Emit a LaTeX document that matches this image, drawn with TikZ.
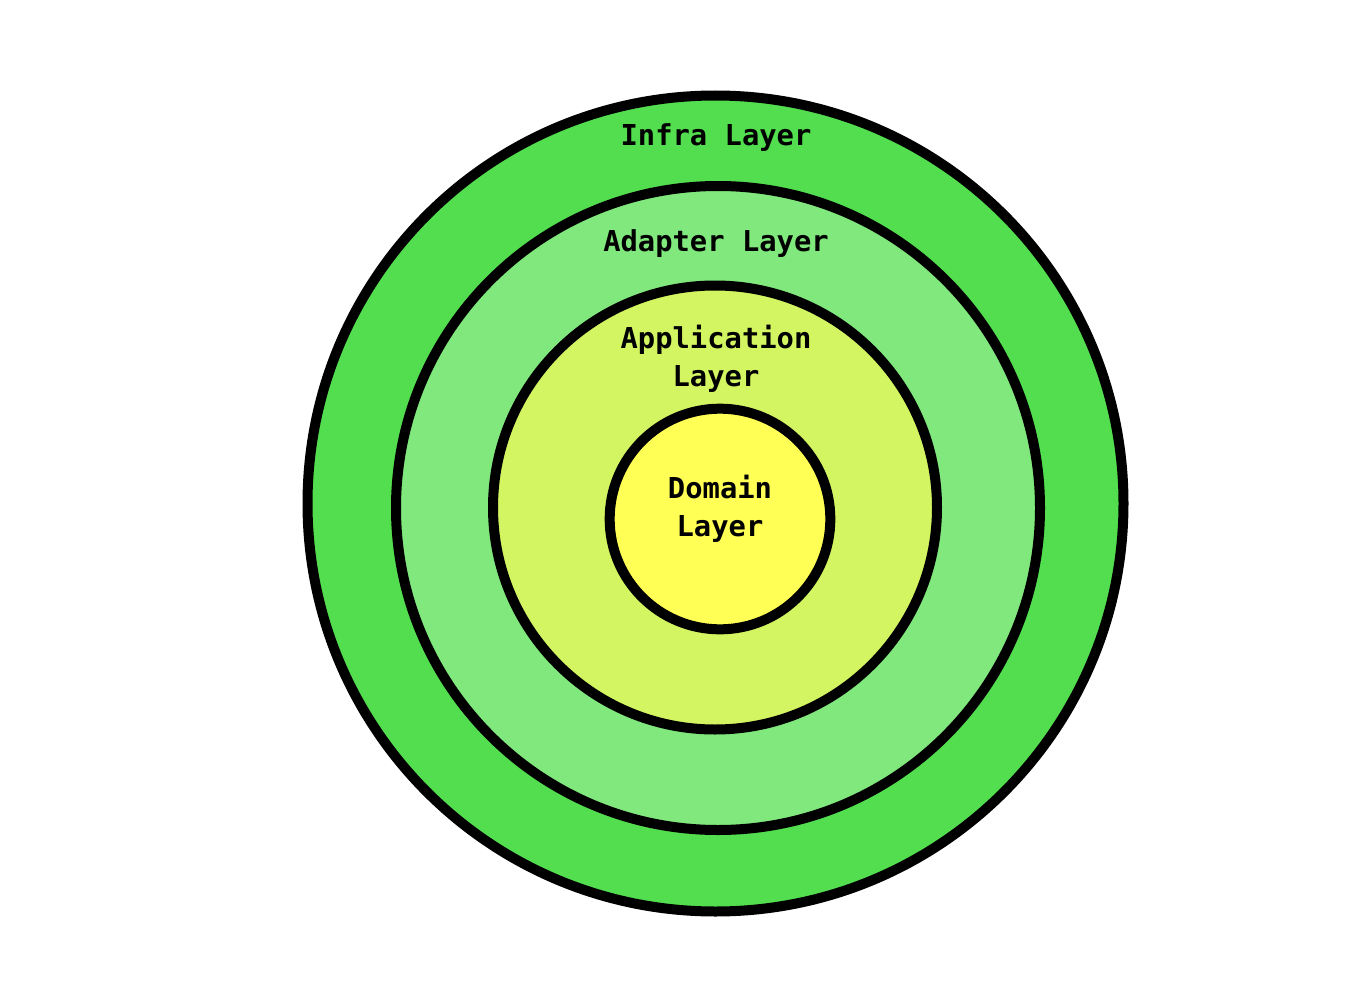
\documentclass[tikz,border=0pt]{standalone}
\usepackage{fontspec}
\newfontfamily\labelfont{DejaVu Sans Mono}
\definecolor{infraC}{HTML}{52DE4E}
\definecolor{adapterC}{HTML}{80E87C}
\definecolor{appC}{HTML}{D4F562}
\definecolor{domC}{HTML}{FFFF55}
\begin{document}
\begin{tikzpicture}[x=0.75pt,y=-0.75pt,
  ring/.style={circle,draw=black,line width=7.5pt,inner sep=0pt},
  lbl/.style={font=\labelfont\bfseries\fontsize{21.6}{28.5}\selectfont,align=center,inner sep=0pt}]
\useasboundingbox (0,0) rectangle (1364,1006);
\node[ring,fill=infraC,minimum size=612pt] (infra) at (715.5,503.5) {};
\node[ring,fill=adapterC,minimum size=483pt] (adapter) at (718,508) {};
\node[ring,fill=appC,minimum size=333pt] (app) at (715,507.5) {};
\node[ring,fill=domC,minimum size=165.5pt] (dom) at (720,519) {};
\node[lbl] (tinfra) at (716,138) {Infra Layer};
\node[lbl] (tadapter) at (716,244) {Adapter Layer};
\node[lbl] (tapp) at (716,359) {Application\\Layer};
\node[lbl] (tdom) at (720,509) {Domain\\Layer};
\end{tikzpicture}
\end{document}
